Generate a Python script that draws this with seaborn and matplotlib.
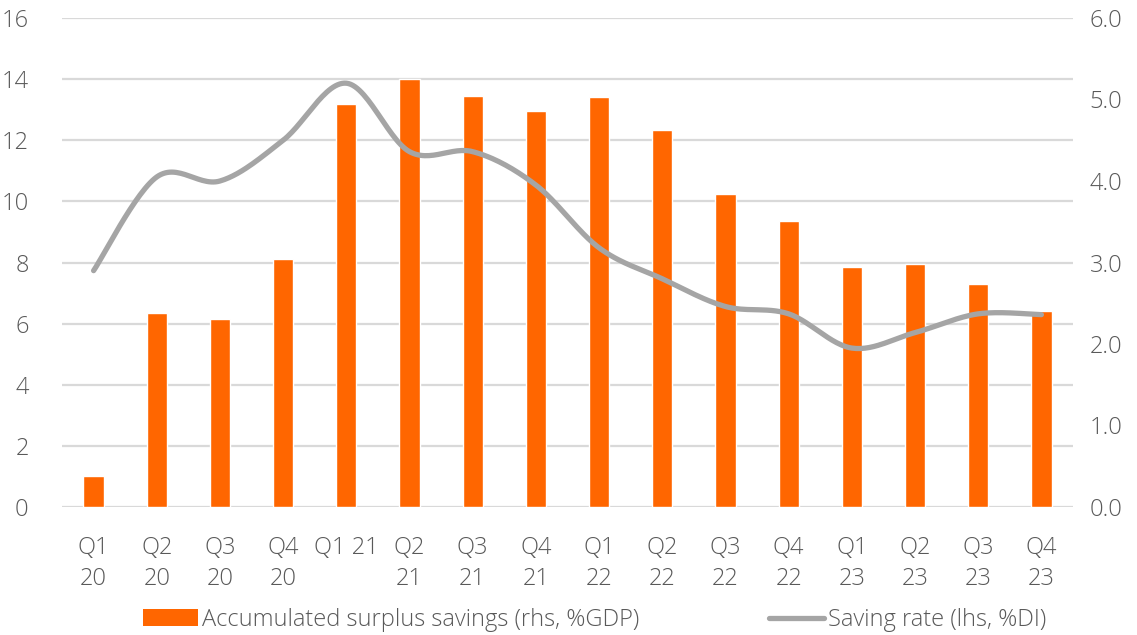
import numpy as np
import pandas as pd
import matplotlib
matplotlib.use("Agg")
import matplotlib.pyplot as plt
import seaborn as sns
from matplotlib.patches import Patch
from matplotlib.lines import Line2D

quarters = ["Q1\n20", "Q2\n20", "Q3\n20", "Q4\n20", "Q1 21", "Q2\n21", "Q3\n21", "Q4\n21",
            "Q1\n22", "Q2\n22", "Q3\n22", "Q4\n22", "Q1\n23", "Q2\n23", "Q3\n23", "Q4\n23"]
surplus_savings = [1.0, 6.35, 6.15, 8.1, 13.2, 14.0, 13.45, 12.95,
                   13.4, 12.35, 10.25, 9.35, 7.85, 7.95, 7.3, 6.4]
saving_rate = [2.9, 4.05, 4.0, 4.5, 5.2, 4.36, 4.36, 3.95,
               3.18, 2.8, 2.46, 2.37, 1.95, 2.14, 2.37, 2.36]
left_ticks = [0, 2, 4, 6, 8, 10, 12, 14, 16]
right_ticks = [0.0, 1.0, 2.0, 3.0, 4.0, 5.0, 6.0]

bar_label = "Accumulated surplus savings (rhs, %GDP)"
line_label = "Saving rate (lhs, %DI)"

ORANGE = "#FF6600"
GREY_LINE = "#A5A5A5"
GRID = "#D9D9D9"
TEXT = "#595959"
FS = 17

sns.set_theme(style="white")
plt.rcParams["font.family"] = ["Open Sans", "DejaVu Sans"]
plt.rcParams["font.weight"] = "light"

fig = plt.figure(figsize=(11.37, 6.35), dpi=100)
ax = fig.add_axes([62 / 1137, 1 - 507 / 635, (1073 - 62) / 1137, (507 - 18) / 635])

df = pd.DataFrame({"quarter": quarters, "surplus": surplus_savings, "rate": saving_rate})
sns.barplot(data=df, x="quarter", y="surplus", color=ORANGE, width=0.32,
            saturation=1, ax=ax, zorder=2)

ax.set_xlim(-0.5, len(quarters) - 0.5)
ax.set_ylim(0, 16)
ax.set_yticks(left_ticks)
ax.set_yticklabels([str(t) for t in left_ticks])
ax.yaxis.grid(True, color=GRID, linewidth=1.6, zorder=0)
ax.set_axisbelow(True)
ax.set_xlabel("")
ax.set_ylabel("")
for s in ax.spines.values():
    s.set_visible(False)
ax.tick_params(axis="both", length=0, labelsize=FS, colors=TEXT)
ax.tick_params(axis="y", pad=24)
ax.tick_params(axis="x", pad=21)
for lbl in ax.get_xticklabels():
    lbl.set_linespacing(1.4)
    lbl.set_verticalalignment("top")

# Saving rate on the secondary axis, drawn as a smooth curve through the quarterly points
ax2 = ax.twinx()
ax2.set_ylim(0, 6)
ax2.set_yticks(right_ticks)
ax2.set_yticklabels([f"{t:.1f}" for t in right_ticks])
ax2.tick_params(axis="y", length=0, labelsize=FS, colors=TEXT, pad=12)
for s in ax2.spines.values():
    s.set_visible(False)
ax2.grid(False)

xs = np.arange(len(saving_rate), dtype=float)
ys = np.asarray(saving_rate, dtype=float)
px = np.concatenate([[xs[0]], xs, [xs[-1]]])
py = np.concatenate([[ys[0]], ys, [ys[-1]]])
cx, cy = [], []
t = np.linspace(0, 1, 30)
for i in range(1, len(px) - 2):
    p0, p1, p2, p3 = (np.array([px[j], py[j]]) for j in (i - 1, i, i + 1, i + 2))
    c1 = p1 + (p2 - p0) / 6
    c2 = p2 - (p3 - p1) / 6
    seg = ((1 - t) ** 3)[:, None] * p1 + (3 * (1 - t) ** 2 * t)[:, None] * c1 \
        + (3 * (1 - t) * t ** 2)[:, None] * c2 + (t ** 3)[:, None] * p2
    cx.extend(seg[:, 0])
    cy.extend(seg[:, 1])
ax2.plot(cx, cy, color=GREY_LINE, linewidth=3.8, solid_capstyle="round",
         solid_joinstyle="round", zorder=3)

handles = [Patch(facecolor=ORANGE, edgecolor="none", label=bar_label),
           Line2D([0], [0], color=GREY_LINE, linewidth=3.8, solid_capstyle="round",
                  label=line_label)]
fig.legend(handles=handles, loc="center", bbox_to_anchor=(595 / 1137, 1 - 620 / 635),
           ncol=2, frameon=False, fontsize=FS, labelcolor=TEXT,
           handlelength=2.3, handleheight=0.75, handletextpad=0.2, columnspacing=5.5)

fig.savefig("out.png", dpi=100)
